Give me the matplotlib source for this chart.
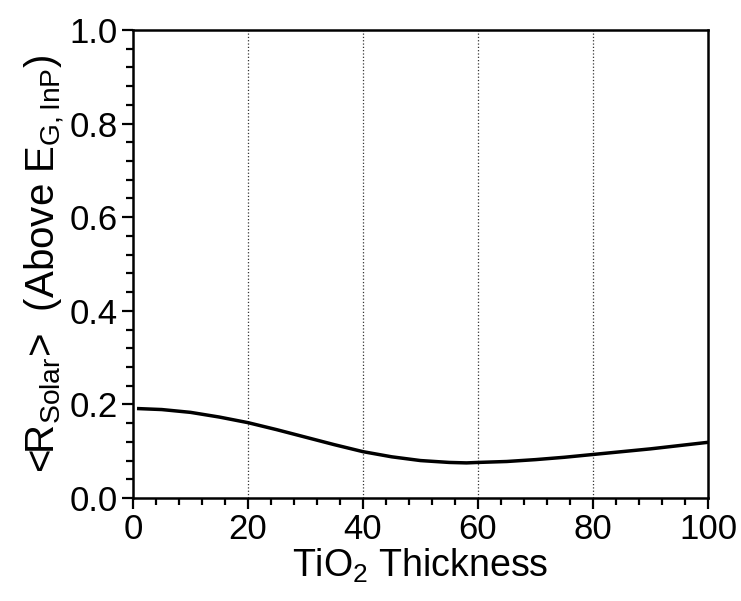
import numpy as np
import matplotlib
matplotlib.use("Agg")
import matplotlib.pyplot as plt
from matplotlib.ticker import MultipleLocator, FormatStrFormatter

plt.rcParams['font.family'] = ['Liberation Sans', 'DejaVu Sans']
plt.rcParams['mathtext.fontset'] = 'custom'
plt.rcParams['mathtext.rm'] = 'Liberation Sans'
plt.rcParams['mathtext.it'] = 'Liberation Sans'
plt.rcParams['mathtext.default'] = 'regular'

# values
thickness = [1, 5, 10, 15, 20, 25, 30, 35, 40, 45, 50, 55, 58, 60, 65, 70, 75, 80, 85, 90, 95, 100]
r_solar = [0.191, 0.189, 0.183, 0.173, 0.161, 0.146, 0.130, 0.114, 0.099, 0.088, 0.080, 0.076, 0.075, 0.076,
           0.078, 0.082, 0.087, 0.093, 0.099, 0.105, 0.112, 0.119]

fig = plt.figure(figsize=(7.41, 6.01), dpi=100)
ax = fig.add_axes([133/741, 1 - 498/601, (708-133)/741, (498-30)/601])

ax.plot(thickness, r_solar, color='black', linewidth=2.5)
for gx in [20, 40, 60, 80]:
    ax.axvline(gx, color='#333333', linestyle=':', linewidth=0.9, zorder=0)

ax.set_xlim(0, 100)
ax.set_ylim(0, 1.0)
ax.xaxis.set_major_locator(MultipleLocator(20))
ax.xaxis.set_minor_locator(MultipleLocator(4))
ax.yaxis.set_major_locator(MultipleLocator(0.2))
ax.yaxis.set_minor_locator(MultipleLocator(0.04))
ax.yaxis.set_major_formatter(FormatStrFormatter('%.1f'))
ax.tick_params(which='both', direction='out', width=1.6, top=False, right=False, labelsize=25)
ax.tick_params(which='major', length=8, pad=3)
ax.tick_params(which='minor', length=5)
for s in ax.spines.values():
    s.set_linewidth(1.8)

ax.set_xlabel('TiO$_2$ Thickness', fontsize=27, labelpad=0)
ax.set_ylabel('<R$_{Solar}$>  (Above E$_{G,InP}$)', fontsize=29, labelpad=2)

fig.savefig('out.png', dpi=100)
